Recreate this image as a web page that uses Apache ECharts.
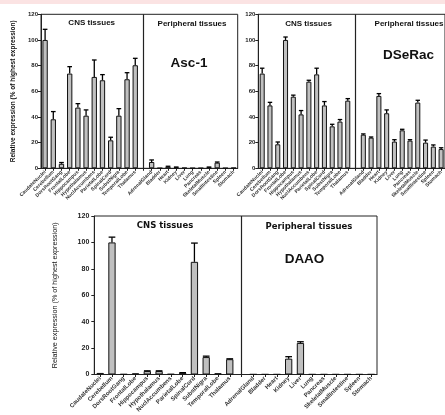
<!DOCTYPE html>
<html><head><meta charset="utf-8">
<script src="https://cdn.jsdelivr.net/npm/echarts@6/dist/echarts.min.js"></script>
<style>html,body{margin:0;padding:0;background:#fff}#c{width:445px;height:415px}</style>
</head><body><div id="c"></div><script>
const cnsTissues = ['CaudateNuclei','Cerebellum','DorsRootGang','FrontalLobe','Hippocampus','Hypothalamus','NuclAccumbens','ParietalLobe','SpinalCord','SubstNigra','TemporalLobe','Thalamus'];
const periphTissues = ['AdrenalGland','Bladder','Heart','Kidney','Liver','Lung','Pancreas','SkeletalMuscle','SmallIntestine','Spleen','Stomach'];
const yTicks = [0, 20, 40, 60, 80, 100, 120];

// Asc-1
const asc1Cns = [100, 38.2, 3.5, 73.8, 47.3, 41, 71.2, 68.6, 21.8, 41, 69.4, 80.3];
const asc1CnsErr = [8.3, 6, 1, 5.4, 3.1, 4.5, 13.2, 4.4, 2.4, 5.5, 5.1, 5.4];
const asc1Periph = [4.9, 0.2, 1.3, 0.8, 0.4, 0.2, 0.2, 0.8, 4.4, 0.2, 0.4];
const asc1PeriphErr = [1.6, 0, 0.3, 0.2, 0, 0, 0, 0.2, 0.5, 0, 0];

// DSeRac
const dseracCns = [73.8, 49, 18.7, 100, 55.8, 42, 67.5, 73.2, 49, 32.7, 36.4, 52.7];
const dseracCnsErr = [4.2, 2.4, 1.8, 2.3, 1.2, 3, 1.1, 4.8, 3, 1.6, 1.6, 1.6];
const dseracPeriph = [26.2, 23.9, 56.4, 42.9, 20.8, 29.6, 21.6, 51.2, 20, 16.9, 15];
const dseracPeriphErr = [0.6, 0.5, 1.8, 2.6, 1.5, 0.8, 0.7, 1.8, 2, 1.3, 1];

// DAAO
const daaoCns = [1.2, 100, 0.3, 0.9, 2.6, 2.6, 0.4, 1.3, 85.3, 13.2, 1.0, 11.6];
const daaoCnsErr = [0, 4, 0, 0, 0.2, 0.2, 0, 0.1, 14.2, 0.7, 0, 0.3];
const daaoPeriph = [0.2, 0.2, 0.2, 12, 23.9, 0.2, 0.2, 0.2, 0.2, 0.2, 0.2];
const daaoPeriphErr = [0, 0, 0, 1.5, 0.9, 0, 0, 0, 0, 0, 0];

const categories = cnsTissues.concat([''], periphTissues);
function join(a, b) { return a.concat([null], b); }
function errData(vals, errs) {
  const out = [];
  vals.forEach((v, i) => { if (v != null) out.push([i, v, v + errs[i]]); });
  return out;
}

const FONT = 'Liberation Sans, Arial, sans-serif';
const grids = [
  {left: 41, top: 14.3, width: 196.7, height: 154},
  {left: 258.3, top: 14.3, width: 196.7, height: 154},
  {left: 94.3, top: 216, width: 282.7, height: 169.3}
];
const panels = [
  {vals: join(asc1Cns, asc1Periph), errs: join(asc1CnsErr, asc1PeriphErr)},
  {vals: join(dseracCns, dseracPeriph), errs: join(dseracCnsErr, dseracPeriphErr)},
  {vals: join(daaoCns, daaoPeriph), errs: join(daaoCnsErr, daaoPeriphErr)}
];

function errRender(params, api) {
  const x = api.value(0), v = api.value(1), t = api.value(2);
  const p0 = api.coord([x, v]);
  const p1 = api.coord([x, t]);
  const w = api.size([1, 0])[0] * 0.57;
  const st = {stroke: '#000', lineWidth: 1.3};
  if (t - v < 0.05) return null;
  return {type: 'group', children: [
    {type: 'line', shape: {x1: p0[0], y1: p0[1], x2: p1[0], y2: p1[1]}, style: st},
    {type: 'line', shape: {x1: p1[0] - w / 2, y1: p1[1], x2: p1[0] + w / 2, y2: p1[1]}, style: st}
  ]};
}

const xAxes = [], yAxes = [], series = [];
grids.forEach((g, k) => {
  const big = k === 2;
  xAxes.push({
    type: 'category', gridIndex: k, data: categories, boundaryGap: true,
    axisLine: {lineStyle: {color: '#222', width: 1}},
    axisTick: {show: true, alignWithLabel: true, interval: 0, length: 2.5, lineStyle: {color: '#222'}},
    axisLabel: {interval: 0, rotate: 45, fontSize: big ? 6 : 5, fontWeight: 'bold', color: '#333', margin: 3, fontFamily: FONT},
    splitLine: {show: false}
  });
  yAxes.push({
    type: 'value', gridIndex: k, min: yTicks[0], max: yTicks[yTicks.length - 1], interval: yTicks[1] - yTicks[0],
    axisLine: {show: true, lineStyle: {color: '#222', width: 1}},
    axisTick: {show: true, length: 3, lineStyle: {color: '#222'}},
    axisLabel: {fontSize: big ? 7 : 6, fontWeight: 'bold', color: '#222', margin: big ? 5 : 3, fontFamily: FONT},
    splitLine: {show: false},
    name: k === 1 ? '' : 'Relative expression (% of highest expression)',
    nameLocation: 'middle', nameGap: big ? 36 : 24, nameRotate: 90,
    nameTextStyle: {fontSize: big ? 7.2 : 6.5, fontWeight: big ? 'normal' : 'bold', color: '#111', fontFamily: FONT}
  });
  series.push({
    type: 'bar', xAxisIndex: k, yAxisIndex: k, data: panels[k].vals,
    barCategoryGap: big ? '38%' : '35%',
    itemStyle: {color: '#c0c0c0', borderColor: '#111', borderWidth: 1},
    markLine: {symbol: 'none', silent: true, label: {show: false},
      lineStyle: {color: '#222', width: 1.2, type: 'solid'}, data: [{xAxis: 12}]},
    animation: false
  });
  series.push({
    type: 'custom', xAxisIndex: k, yAxisIndex: k, renderItem: errRender,
    data: errData(panels[k].vals, panels[k].errs), encode: {x: 0, y: 1}, z: 5, animation: false
  });
});

function txt(x, y, s, size, font) {
  return {type: 'text', x: x, y: y, z: 100, style: {text: s, fontSize: size, fontWeight: 'bold', fill: '#111',
    fontFamily: font || FONT, align: 'center', verticalAlign: 'middle'}};
}
const DV = 'DejaVu Sans, Verdana, sans-serif';

const chart = echarts.init(document.getElementById('c'), null, {renderer: 'canvas'});
chart.setOption({
  animation: false,
  backgroundColor: '#fff',
  grid: grids.map(g => Object.assign({show: true, borderColor: '#222', borderWidth: 1, backgroundColor: 'transparent', containLabel: false}, g)),
  xAxis: xAxes, yAxis: yAxes, series: series,
  graphic: [
    {type: 'rect', shape: {x: 0, y: 0, width: 445, height: 4}, style: {fill: '#fbe3e3'}, z: 0},
    txt(91.7, 23, 'CNS tissues', 8),
    txt(192, 24, 'Peripheral tissues', 8),
    txt(189, 63, 'Asc-1', 13.5),
    txt(308.5, 23.3, 'CNS tissues', 8),
    txt(409, 24, 'Peripheral tissues', 8),
    txt(408.5, 55, 'DSeRac', 13.5),
    txt(165, 226, 'CNS tissues', 8.5, DV),
    txt(309, 226.7, 'Peripheral tissues', 8.5, DV),
    txt(304.5, 259, 'DAAO', 13.5)
  ]
});
</script></body></html>
